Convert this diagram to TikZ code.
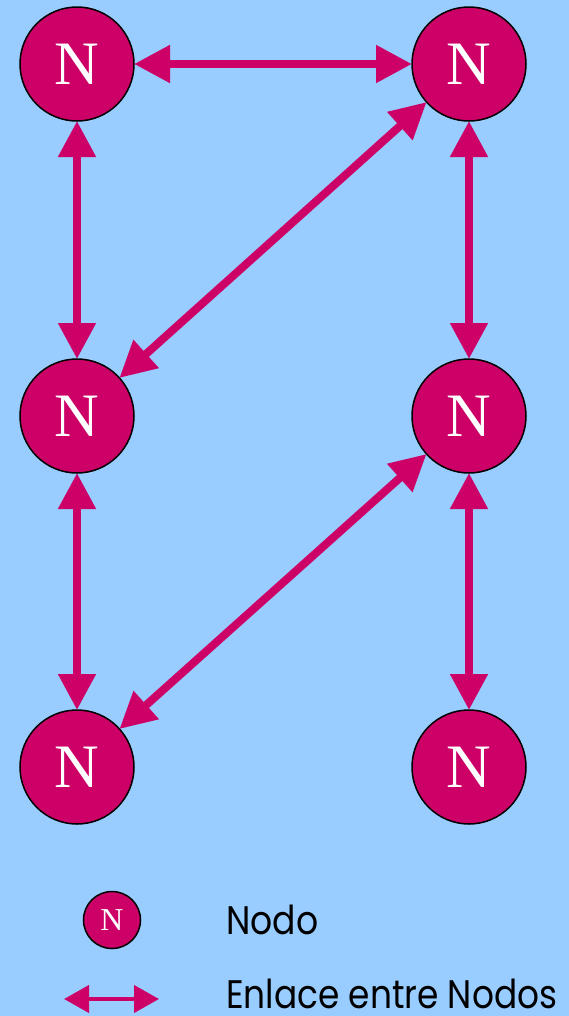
\documentclass[tikz,border=0pt]{standalone}
\usepackage{fontspec}
\setmainfont{Liberation Serif}
\newfontfamily\legendfont{Poppins}
\usetikzlibrary{arrows.meta}
\definecolor{bg}{RGB}{153,204,255}
\definecolor{mag}{RGB}{204,0,102}
\begin{document}
\begin{tikzpicture}[x=1bp,y=-1bp,
  netnode/.style={circle,fill=mag,draw=black,line width=1.5bp,minimum size=114bp,inner sep=0pt,outer sep=0pt,text=white,font=\fontsize{62}{62}\selectfont},
  smallnode/.style={circle,fill=mag,draw=black,line width=1.5bp,minimum size=57bp,inner sep=0pt,outer sep=0pt,text=white,font=\fontsize{32}{32}\selectfont},
  link/.style={draw=mag,line width=8bp,{Triangle[length=36bp,width=36bp]}-{Triangle[length=36bp,width=36bp]}},
  smalllink/.style={draw=mag,line width=4bp,{Triangle[length=25bp,width=27bp]}-{Triangle[length=25bp,width=27bp]}},
  legendtext/.style={anchor=base west,inner sep=0pt,text depth=0pt,font=\legendfont\fontsize{40}{40}\selectfont}
 ]
\fill[bg] (0,0) rectangle (569,1016);
\useasboundingbox (0,0) rectangle (569,1016);
\node[netnode] (tl) at (77,64) {\raisebox{-3bp}{N}};
\node[netnode] (tr) at (469,64) {\raisebox{-3bp}{N}};
\node[netnode] (ml) at (77,416) {\raisebox{-3bp}{N}};
\node[netnode] (mr) at (469,416) {\raisebox{-3bp}{N}};
\node[netnode] (bl) at (77,767) {\raisebox{-3bp}{N}};
\node[netnode] (br) at (469,767) {\raisebox{-3bp}{N}};
\draw[link] (tl) -- (tr);
\draw[link] (tl) -- (ml);
\draw[link] (ml) -- (bl);
\draw[link] (tr) -- (mr);
\draw[link] (mr) -- (br);
\draw[link] (tr) -- (ml);
\draw[link] (mr) -- (bl);
\node[smallnode] (legn) at (112,920) {\raisebox{-1.5bp}{N}};
\node[legendtext] (legnt) at (226,934) {\resizebox{92bp}{\height}{Nodo}};
\coordinate (la) at (64,999);
\coordinate (lb) at (159,999);
\draw[smalllink] (la) -- (lb);
\node[legendtext] (legat) at (226,1008) {\resizebox{331bp}{\height}{Enlace entre Nodos}};
\end{tikzpicture}
\end{document}
